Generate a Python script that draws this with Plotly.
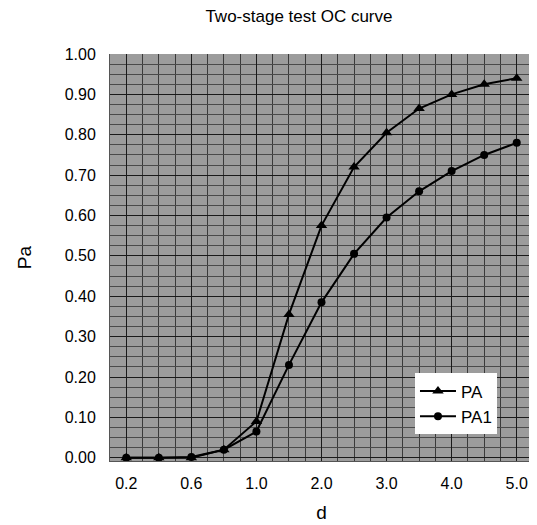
import plotly.graph_objects as go

d_labels = ["0.2", "0.4", "0.6", "0.8", "1.0", "1.5", "2.0", "2.5", "3.0", "3.5", "4.0", "4.5", "5.0"]
pa = [0.0, 0.0, 0.0, 0.02, 0.09, 0.355, 0.575, 0.72, 0.805, 0.865, 0.90, 0.925, 0.94]
pa1 = [0.0, 0.0, 0.002, 0.02, 0.065, 0.23, 0.385, 0.505, 0.595, 0.66, 0.71, 0.75, 0.78]
shown_ticks = ["0.2", "0.6", "1.0", "2.0", "3.0", "4.0", "5.0"]
y_ticks = [0.0, 0.1, 0.2, 0.3, 0.4, 0.5, 0.6, 0.7, 0.8, 0.9, 1.0]

xpos = list(range(len(d_labels)))
tickpos = [d_labels.index(t) for t in shown_ticks]

fig = go.Figure()
fig.add_trace(go.Scatter(x=xpos, y=pa, name="PA", mode="lines+markers",
                         line=dict(color="black", width=2),
                         marker=dict(symbol="triangle-up", size=10, color="black")))
fig.add_trace(go.Scatter(x=xpos, y=pa1, name="PA1", mode="lines+markers",
                         line=dict(color="black", width=2),
                         marker=dict(symbol="circle", size=8, color="black")))

fig.update_layout(
    width=529, height=517,
    margin=dict(l=102, r=4, t=46, b=64),
    paper_bgcolor="white",
    plot_bgcolor="#9c9c9c",
    font=dict(family="Liberation Sans, Arial, sans-serif", color="black", size=16),
    title=dict(text="Two-stage test OC curve", x=0.55, xanchor="center", y=0.985, yanchor="middle",
               font=dict(size=17)),
    showlegend=True,
    legend=dict(x=0.721, y=0.215, xanchor="left", yanchor="top", bgcolor="white",
                borderwidth=0, font=dict(size=17), itemwidth=36, tracegroupgap=4),
    xaxis=dict(range=[-0.5, 12.5], tickvals=tickpos, ticktext=shown_ticks,
               showgrid=True, gridcolor="#1a1a1a", gridwidth=1,
               minor=dict(dtick=0.5, tick0=0, showgrid=True, gridcolor="#3a3a3a", gridwidth=1),
               zeroline=False, showline=True, linecolor="#555555", ticks="",
               title=dict(text="d", standoff=14), ticklabelstandoff=8),
    yaxis=dict(range=[-0.008, 1.0], tickvals=y_ticks, tickformat=".2f",
               showgrid=True, gridcolor="#1a1a1a", gridwidth=1,
               minor=dict(dtick=0.025, showgrid=True, gridcolor="#4a4a4a", gridwidth=1),
               zeroline=False, showline=True, linecolor="#555555", ticks="",
               title=dict(text="Pa", standoff=28), ticklabelstandoff=10),
)

fig.write_html("out.html")
